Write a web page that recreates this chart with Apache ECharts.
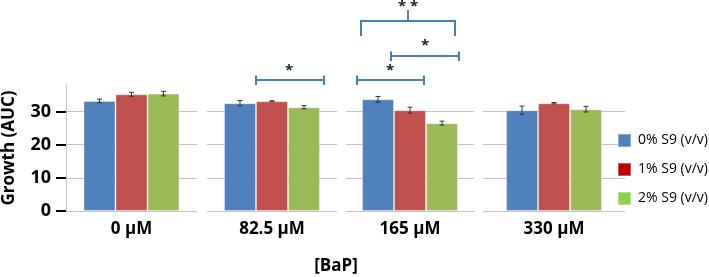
<!DOCTYPE html>
<html>
<head>
<meta charset="utf-8">
<script src="https://cdn.jsdelivr.net/npm/echarts@6/dist/echarts.min.js"></script>
<style>
  html, body { margin: 0; padding: 0; background: #fff; }
  #chart { width: 709px; height: 277px; }
</style>
</head>
<body>
<div id="chart"></div>
<script>
// concentration panels
const categories = ['0 μM', '82.5 μM', '165 μM', '330 μM']
const seriesNames = ['0% S9 (v/v)', '1% S9 (v/v)', '2% S9 (v/v)']

// growth (AUC) per S9 level, one value per panel
const s9_0 = [33.2, 32.5, 33.7, 30.4]
const s9_1 = [35.2, 33.1, 30.4, 32.5]
const s9_2 = [35.4, 31.3, 26.5, 30.7]
// error bar half lengths
const err_0 = [0.55, 0.8, 0.85, 1.25]
const err_1 = [0.6, 0.15, 0.9, 0.2]
const err_2 = [0.7, 0.5, 0.6, 0.85]

const yTicks = [0, 10, 20, 30]

const values = [s9_0, s9_1, s9_2]
const errors = [err_0, err_1, err_2]
const COLOR = ['#4f81bd', '#c0504d', '#9bbb59']
const LEGEND_COLOR = ['#4f81bd', '#c00000', '#92d050']
const FONT = 'Open Sans'
const BAR_W = 32

// panel extents in px (left, right)
const panels = [[58, 197], [207, 337], [346, 474], [483, 625]]

const chart = echarts.init(document.getElementById('chart'))

const grid = panels.map(p => ({ left: p[0], width: p[1] - p[0], top: 85, bottom: 66 }))

const xAxis = categories.map((c, i) => ({
    type: 'category',
    gridIndex: i,
    data: [c],
    axisLine: { show: false },
    axisTick: { show: false },
    axisLabel: { fontFamily: FONT, fontWeight: 'bold', fontSize: 17, color: '#000', margin: 10 }
}))

const yAxis = categories.map((c, i) => ({
    type: 'value',
    gridIndex: i,
    min: 0,
    max: 38,
    interval: 2,
    name: i === 0 ? 'Growth (AUC)' : '',
    nameLocation: 'middle',
    nameRotate: 90,
    nameGap: 48,
    nameTextStyle: { fontFamily: FONT, fontWeight: 'bold', fontSize: 17, color: '#000' },
    axisLine: { show: i === 0, lineStyle: { color: '#c8c8c8', width: 1 } },
    axisTick: {
        show: i === 0,
        customValues: yTicks,
        length: 10,
        lineStyle: { color: '#000', width: 2 }
    },
    axisLabel: {
        show: i === 0,
        customValues: yTicks,
        margin: 15,
        fontFamily: FONT, fontWeight: 'bold', fontSize: 18, color: '#000'
    },
    splitLine: { show: true, lineStyle: { color: '#c4c4c4', width: 1 } }
}))

const series = []
categories.forEach((c, i) => {
    values.forEach((vals, k) => {
        series.push({
            type: 'bar',
            name: seriesNames[k],
            xAxisIndex: i,
            yAxisIndex: i,
            data: [vals[i]],
            barWidth: BAR_W,
            barGap: '0%',
            itemStyle: { color: COLOR[k], borderColor: 'rgba(255,255,255,0.35)', borderWidth: 1 }
        })
    })
    // error bars
    series.push({
        type: 'custom',
        xAxisIndex: i,
        yAxisIndex: i,
        z: 5,
        data: values.map((vals, k) => [0, vals[i], errors[k][i], k]),
        renderItem: (params, api) => {
            const k = api.value(3)
            const v = api.value(1)
            const e = api.value(2)
            const top = api.coord([0, v + e])
            const bot = api.coord([0, v - e])
            const x = top[0] + (k - 1) * BAR_W
            const style = { stroke: '#333', lineWidth: 1 }
            return {
                type: 'group',
                children: [
                    { type: 'line', shape: { x1: x, y1: top[1], x2: x, y2: bot[1] }, style },
                    { type: 'line', shape: { x1: x - 2.5, y1: top[1], x2: x + 2.5, y2: top[1] }, style },
                    { type: 'line', shape: { x1: x - 2.5, y1: bot[1], x2: x + 2.5, y2: bot[1] }, style }
                ]
            }
        }
    })
})

// significance brackets
const BR = { stroke: '#4a7ebb', lineWidth: 2, fill: null }
const star = (x, y, t) => ({
    type: 'text', x, y,
    style: { text: t, fontFamily: FONT, fontWeight: 'bold', fontSize: 15, fill: '#222', align: 'center', verticalAlign: 'middle' }
})
const bracket = (x1, x2, y) => ({
    type: 'group',
    children: [
        { type: 'line', shape: { x1, y1: y, x2, y2: y }, style: BR },
        { type: 'line', shape: { x1, y1: y - 4.5, x2: x1, y2: y + 5 }, style: BR },
        { type: 'line', shape: { x1: x2, y1: y - 4.5, x2, y2: y + 5 }, style: BR }
    ]
})

const graphic = [
    bracket(256, 324, 80), star(289, 71, '*'),
    bracket(357, 424, 80), star(390, 71, '*'),
    bracket(391, 459, 56), star(425, 46, '*'),
    { type: 'polyline', shape: { points: [[361, 36], [361, 21], [455, 21], [455, 36]] }, style: BR },
    { type: 'line', shape: { x1: 408, y1: 21, x2: 408, y2: 10 }, style: BR },
    star(408, 7, '* *'),
    {
        type: 'text', x: 336, y: 266,
        style: { text: '[BaP]', fontFamily: FONT, fontWeight: 'bold', fontSize: 17, fill: '#000', align: 'center', verticalAlign: 'middle' }
    }
]

chart.setOption({
    animation: false,
    grid,
    xAxis,
    yAxis,
    series,
    graphic,
    legend: {
        orient: 'vertical',
        left: 612,
        top: 128,
        itemWidth: 13,
        itemHeight: 13,
        itemGap: 14,
        icon: 'rect',
        textStyle: { fontFamily: FONT, fontSize: 14, color: '#000', padding: [0, 0, 0, 2] },
        data: seriesNames.map((n, k) => ({ name: n, itemStyle: { color: LEGEND_COLOR[k] } }))
    }
})
</script>
</body>
</html>
